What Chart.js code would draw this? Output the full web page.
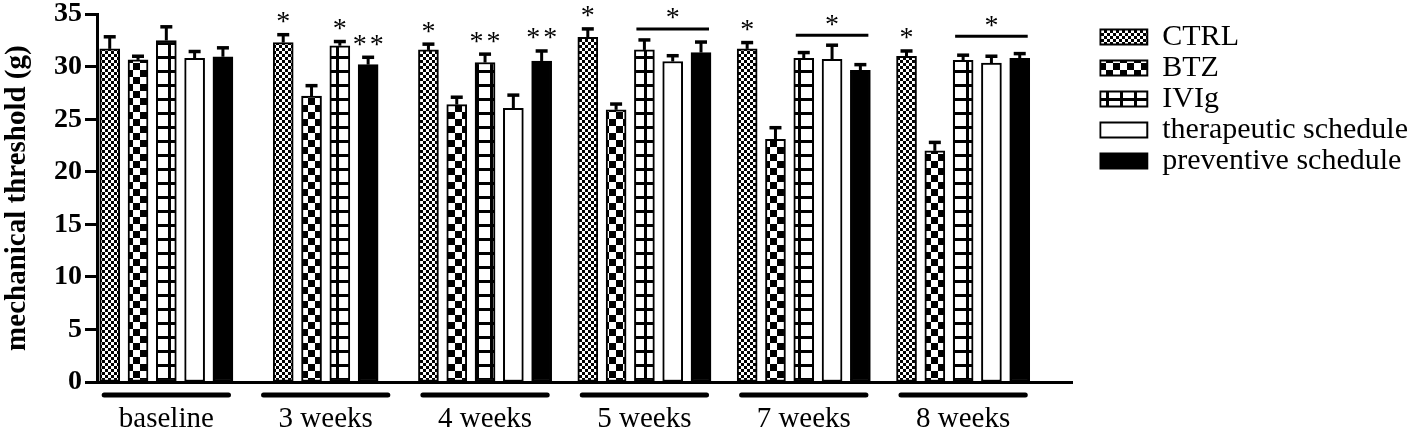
<!DOCTYPE html>
<html>
<head>
<meta charset="utf-8">
<script src="https://cdn.jsdelivr.net/npm/chart.js@4.4.0/dist/chart.umd.min.js"></script>
<style>
  html, body { margin: 0; padding: 0; background: #fff; }
</style>
</head>
<body>
<canvas id="chart" width="1418" height="433"></canvas>
<script>
// Time points and groups
const groups = ['baseline', '3 weeks', '4 weeks', '5 weeks', '7 weeks', '8 weeks'];
const seriesNames = ['CTRL', 'BTZ', 'IVIg', 'therapeutic schedule', 'preventive schedule'];

// mean mechanical threshold (g) and SEM
const ctrlMean = [31.7, 32.3, 31.6, 32.8, 31.7, 31.0];
const ctrlErr  = [1.15, 0.75, 0.55, 0.8, 0.6, 0.5];
const btzMean  = [30.65, 27.2, 26.4, 25.9, 23.1, 22.0];
const btzErr   = [0.35, 1.0, 0.7, 0.55, 1.1, 0.8];
const ivigMean = [32.5, 32.0, 30.4, 31.6, 30.8, 30.6];
const ivigErr  = [1.3, 0.4, 0.8, 0.95, 0.55, 0.5];
const therMean = [30.8, null, 26.05, 30.5, 30.7, 30.35];
const therErr  = [0.65, null, 1.25, 0.55, 1.35, 0.65];
const prevMean = [30.95, 30.2, 30.55, 31.35, 29.65, 30.8];
const prevErr  = [0.85, 0.7, 0.95, 1.0, 0.55, 0.45];

// significance marks
const ctrlStars = ['', '*', '*', '*', '*', '*'];
const btzStars  = ['', '', '', '', '', ''];
const ivigStars = ['', '*', '**', '', '', ''];
const therStars = ['', '', '', '', '', ''];
const prevStars = ['', '**', '**', '', '', ''];
// bracket over IVIg..preventive
const bracketStars = ['', '', '', '*', '*', '*'];
const bracketLevel = [null, null, null, 33.6, 33.0, 32.9];

const yTicks = [0, 5, 10, 15, 20, 25, 30, 35];

const seriesMeans = [ctrlMean, btzMean, ivigMean, therMean, prevMean];
const seriesErrors = [ctrlErr, btzErr, ivigErr, therErr, prevErr];
const seriesStars = [ctrlStars, btzStars, ivigStars, therStars, prevStars];

const serif = "'Liberation Serif', 'Times New Roman', serif";
const canvas = document.getElementById('chart');
const mainCtx = canvas.getContext('2d');

function makePattern(size, draw) {
    const c = document.createElement('canvas');
    c.width = size;
    c.height = size;
    const g = c.getContext('2d');
    g.fillStyle = '#fff';
    g.fillRect(0, 0, size, size);
    g.fillStyle = '#000';
    draw(g, size);
    return mainCtx.createPattern(c, 'repeat');
}

const fineChecker = makePattern(6, (g) => {
    g.fillRect(0, 0, 3, 3);
    g.fillRect(3, 3, 3, 3);
});
const bigChecker = makePattern(14, (g) => {
    g.fillRect(0, 0, 7, 7);
    g.fillRect(7, 7, 7, 7);
});
const gridFill = makePattern(14, (g) => {
    g.fillRect(0, 0, 14, 3);
    g.fillRect(0, 0, 3, 14);
});
const fills = [fineChecker, bigChecker, gridFill, '#fff', '#000'];

function drawMark(ctx, text, cx, cy) {
    ctx.font = '28px ' + serif;
    ctx.textAlign = 'center';
    ctx.textBaseline = 'alphabetic';
    const m = ctx.measureText('*');
    const off = (m.actualBoundingBoxAscent - m.actualBoundingBoxDescent) / 2;
    const n = text.length;
    for (let k = 0; k < n; k++) {
        ctx.fillText('*', cx + (k - (n - 1) / 2) * 17, cy + off);
    }
}

// error bars, stars, brackets and group underlines
const marksPlugin = {
    id: 'marks',
    afterDatasetsDraw(chart) {
        const { ctx, scales: { x, y } } = chart;
        ctx.save();
        ctx.strokeStyle = '#000';
        ctx.fillStyle = '#000';

        seriesMeans.forEach((means, s) => {
            const bars = chart.getDatasetMeta(s).data;
            means.forEach((m, i) => {
                if (m === null) return;
                const bx = bars[i].x;
                const y0 = y.getPixelForValue(m);
                const y1 = y.getPixelForValue(m + seriesErrors[s][i]);
                ctx.lineWidth = 3;
                ctx.beginPath();
                ctx.moveTo(bx, y0);
                ctx.lineTo(bx, y1);
                ctx.stroke();
                ctx.lineWidth = 3.5;
                ctx.beginPath();
                ctx.moveTo(bx - 6, y1);
                ctx.lineTo(bx + 6, y1);
                ctx.stroke();
                if (seriesStars[s][i]) drawMark(ctx, seriesStars[s][i], bx, y1 - 17);
            });
        });

        bracketStars.forEach((mark, i) => {
            if (!mark) return;
            const first = chart.getDatasetMeta(2).data[i];
            const last = chart.getDatasetMeta(4).data[i];
            const by = y.getPixelForValue(bracketLevel[i]);
            ctx.lineWidth = 3;
            ctx.beginPath();
            ctx.moveTo(first.x - first.width / 2 + 2, by);
            ctx.lineTo(last.x + last.width / 2 - 2, by);
            ctx.stroke();
            drawMark(ctx, mark, (first.x + last.x) / 2, by - 15);
        });

        const uy = chart.chartArea.bottom + 13;
        ctx.lineWidth = 5;
        ctx.lineCap = 'round';
        groups.forEach((g, i) => {
            ctx.beginPath();
            ctx.moveTo(x.getPixelForValue(i - 0.39), uy);
            ctx.lineTo(x.getPixelForValue(i + 0.39), uy);
            ctx.stroke();
        });
        ctx.restore();
    }
};

const datasets = seriesNames.map((name, s) => ({
    label: name,
    data: seriesMeans[s].map((v, i) => ({ x: i, y: v })),
    backgroundColor: fills[s],
    borderColor: '#000',
    borderWidth: 2,
    borderSkipped: false,
    barThickness: 28.3,
    maxBarThickness: 20,
    skipNull: true
}));

new Chart(mainCtx, {
    type: 'bar',
    data: { datasets },
    options: {
        responsive: false,
        animation: false,
        layout: { padding: 0 },
        plugins: {
            tooltip: { enabled: false },
            legend: {
                position: 'right',
                align: 'start',
                maxWidth: 340,
                title: { display: true, text: '', font: { size: 10, lineHeight: 2.1 }, padding: 0 },
                labels: {
                    boxWidth: 47,
                    boxHeight: 15,
                    padding: 1,
                    color: '#000',
                    font: { family: serif, size: 30 }
                }
            }
        },
        scales: {
            x: {
                type: 'linear',
                min: -0.435,
                max: 5.685,
                offset: false,
                grid: { display: false, drawTicks: false },
                border: { display: true, color: '#000', width: 3 },
                ticks: {
                    stepSize: 1,
                    includeBounds: false,
                    autoSkip: false,
                    maxRotation: 0,
                    padding: 20,
                    color: '#000',
                    font: { family: serif, size: 29 },
                    callback: (v) => Number.isInteger(v) ? groups[v] : ''
                },
                afterFit: (scale) => { scale.height = 51; }
            },
            y: {
                min: yTicks[0],
                max: yTicks[yTicks.length - 1],
                afterBuildTicks: (scale) => { scale.ticks = yTicks.map(v => ({ value: v })); },
                grid: {
                    display: true,
                    drawOnChartArea: false,
                    drawTicks: true,
                    tickLength: 12,
                    tickWidth: 3,
                    tickColor: '#000'
                },
                border: { display: true, color: '#000', width: 3 },
                ticks: {
                    padding: 3,
                    color: '#000',
                    font: { family: serif, size: 28, weight: 'bold', lineHeight: 0.8 }
                },
                title: {
                    display: true,
                    text: 'mechanical threshold (g)',
                    color: '#000',
                    padding: 0,
                    font: { family: serif, size: 29, weight: 'bold' }
                },
                afterFit: (scale) => { scale.width = 97; }
            },
            y2: {
                position: 'right',
                display: true,
                grid: { display: false, drawTicks: false },
                border: { display: false },
                ticks: { display: false },
                afterFit: (scale) => { scale.width = 27; }
            }
        }
    },
    plugins: [marksPlugin]
});
</script>
</body>
</html>
